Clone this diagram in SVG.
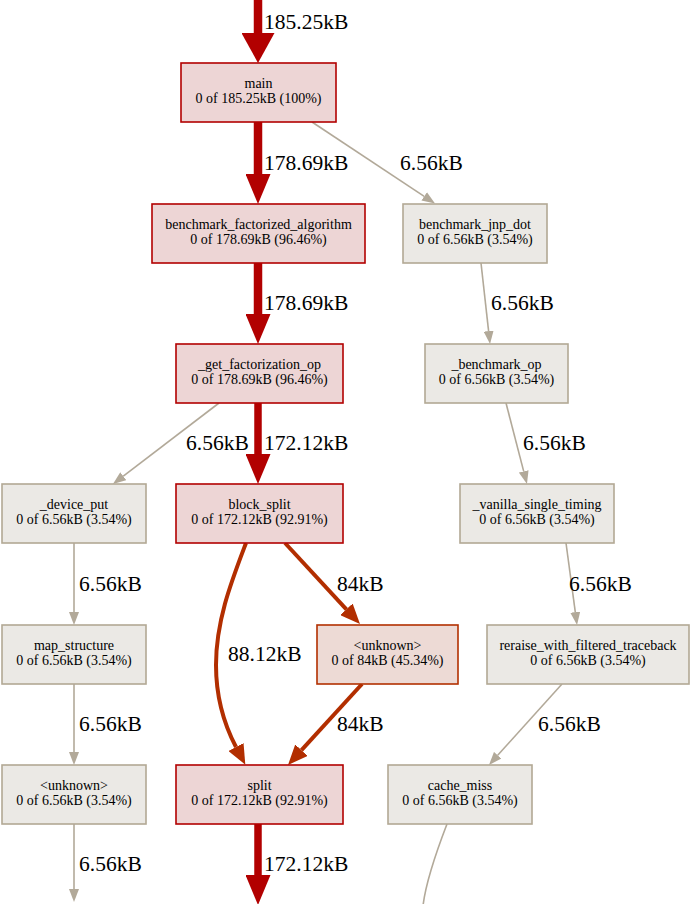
<svg xmlns="http://www.w3.org/2000/svg" width="692" height="904" viewBox="0 0 692 904">
<style>
.nr rect{fill:#edd5d5;stroke:#b20000;stroke-width:1.6}
.no rect{fill:#eddad5;stroke:#b23000;stroke-width:1.6}
.ng rect{fill:#ebe9e5;stroke:#b2a894;stroke-width:1.6}
.node text{font-family:'Liberation Serif',serif;font-size:14px;fill:#000;text-anchor:middle}
text.lbl{font-family:'Liberation Serif',serif;font-size:21.5px;fill:#000}
.eg{fill:none;stroke:#b2a999;stroke-width:1.6}
.eo{fill:none;stroke:#b22e00;stroke-width:4}
.er{fill:none;stroke:#b20000;stroke-width:8.5}
.er2{fill:none;stroke:#b20000;stroke-width:7.5}
.mg{fill:#b2a999}
.mo{fill:#b22e00}
.mr{fill:#b20000}
</style>
<defs>
<marker id="ag" viewBox="0 -5 13 10" markerWidth="13" markerHeight="10" refX="0" refY="0" orient="auto" markerUnits="userSpaceOnUse"><path class="mg" d="M0,-5L13,0L0,5z"/></marker>
<marker id="ao" viewBox="0 -8.5 20 17" markerWidth="20" markerHeight="17" refX="0" refY="0" orient="auto" markerUnits="userSpaceOnUse"><path class="mo" d="M0,-8.5L20,0L0,8.5z"/></marker>
<marker id="ar" viewBox="0 -12.5 30 25" markerWidth="30" markerHeight="25" refX="0" refY="0" orient="auto" markerUnits="userSpaceOnUse"><path class="mr" d="M0,-12.5L30,0L0,12.5z"/></marker>
<marker id="ar0" viewBox="0 -16.5 30 33" markerWidth="30" markerHeight="33" refX="0" refY="0" orient="auto" markerUnits="userSpaceOnUse"><path class="mr" d="M0,-16.5L30,0L0,16.5z"/></marker>
</defs>
<g id="edges">
<path class="er" d="M258,0L258,33" marker-end="url(#ar0)"/>
<path class="er" d="M258,122L258,174" marker-end="url(#ar)"/>
<path class="eg" d="M312,122L424.2,196.3" marker-end="url(#ag)"/>
<path class="er" d="M258,263L258,314" marker-end="url(#ar)"/>
<path class="eg" d="M481,263L488.6,331.1" marker-end="url(#ag)"/>
<path class="eg" d="M219,403L123.3,476.1" marker-end="url(#ag)"/>
<path class="er2" d="M258,403L258,454" marker-end="url(#ar)"/>
<path class="eg" d="M506,403L523.7,471.4" marker-end="url(#ag)"/>
<path class="eg" d="M74,543L74,612" marker-end="url(#ag)"/>
<path class="eo" d="M246,543C232,580 216,620 216,665C216,702 226,728 236,747" marker-end="url(#ao)"/>
<path class="eo" d="M285,543L346.4,609.3" marker-end="url(#ao)"/>
<path class="eg" d="M566,543L575.3,612.1" marker-end="url(#ag)"/>
<path class="eg" d="M74,684L74,752" marker-end="url(#ag)"/>
<path class="eo" d="M362,684L301.5,750.2" marker-end="url(#ao)"/>
<path class="eg" d="M562,684L497.7,755.3" marker-end="url(#ag)"/>
<path class="eg" d="M74,824L74,889" marker-end="url(#ag)"/>
<path class="er2" d="M258,824L258,875" marker-end="url(#ar)"/>
<path class="eg" d="M447,824C437,850 426,880 423,906"/>
<g font-family="Liberation Serif, serif" font-size="21.5">
<text class="lbl" x="264" y="29">185.25kB</text>
<text class="lbl" x="264" y="170">178.69kB</text>
<text class="lbl" x="400" y="170">6.56kB</text>
<text class="lbl" x="264" y="310">178.69kB</text>
<text class="lbl" x="491" y="310">6.56kB</text>
<text class="lbl" x="186" y="450">6.56kB</text>
<text class="lbl" x="264" y="450">172.12kB</text>
<text class="lbl" x="523" y="450">6.56kB</text>
<text class="lbl" x="79" y="591">6.56kB</text>
<text class="lbl" x="337" y="591">84kB</text>
<text class="lbl" x="569" y="591">6.56kB</text>
<text class="lbl" x="228" y="661">88.12kB</text>
<text class="lbl" x="79" y="731">6.56kB</text>
<text class="lbl" x="337" y="731">84kB</text>
<text class="lbl" x="538" y="731">6.56kB</text>
<text class="lbl" x="79" y="871">6.56kB</text>
<text class="lbl" x="264" y="871">172.12kB</text>
</g>
</g>
<g id="n_main" class="node nr"><rect x="181" y="63" width="155" height="59"/><text x="258.5" y="88">main</text><text x="258.5" y="103">0 of 185.25kB (100%)</text></g>
<g id="n_bfa" class="node nr"><rect x="152" y="204" width="213" height="59"/><text x="258.5" y="229">benchmark_factorized_algorithm</text><text x="258.5" y="244">0 of 178.69kB (96.46%)</text></g>
<g id="n_jnp" class="node ng"><rect x="403" y="204" width="144" height="59"/><text x="475" y="229">benchmark_jnp_dot</text><text x="475" y="244">0 of 6.56kB (3.54%)</text></g>
<g id="n_gfo" class="node nr"><rect x="176" y="344" width="167" height="59"/><text x="259.5" y="369">_get_factorization_op</text><text x="259.5" y="384">0 of 178.69kB (96.46%)</text></g>
<g id="n_bop" class="node ng"><rect x="425" y="344" width="143" height="59"/><text x="496.5" y="369">_benchmark_op</text><text x="496.5" y="384">0 of 6.56kB (3.54%)</text></g>
<g id="n_dput" class="node ng"><rect x="2" y="484" width="144" height="59"/><text x="74" y="509">_device_put</text><text x="74" y="524">0 of 6.56kB (3.54%)</text></g>
<g id="n_bsplit" class="node nr"><rect x="176" y="484" width="167" height="59"/><text x="259.5" y="509">block_split</text><text x="259.5" y="524">0 of 172.12kB (92.91%)</text></g>
<g id="n_vst" class="node ng"><rect x="460" y="484" width="154" height="59"/><text x="537" y="509">_vanilla_single_timing</text><text x="537" y="524">0 of 6.56kB (3.54%)</text></g>
<g id="n_map" class="node ng"><rect x="2" y="625" width="144" height="59"/><text x="74" y="650">map_structure</text><text x="74" y="665">0 of 6.56kB (3.54%)</text></g>
<g id="n_unk84" class="node no"><rect x="317" y="625" width="141" height="59"/><text x="387.5" y="650">&lt;unknown&gt;</text><text x="387.5" y="665">0 of 84kB (45.34%)</text></g>
<g id="n_reraise" class="node ng"><rect x="487" y="625" width="202" height="59"/><text x="588" y="650">reraise_with_filtered_traceback</text><text x="588" y="665">0 of 6.56kB (3.54%)</text></g>
<g id="n_unk" class="node ng"><rect x="2" y="765" width="144" height="59"/><text x="74" y="790">&lt;unknown&gt;</text><text x="74" y="805">0 of 6.56kB (3.54%)</text></g>
<g id="n_split" class="node nr"><rect x="176" y="765" width="167" height="59"/><text x="259.5" y="790">split</text><text x="259.5" y="805">0 of 172.12kB (92.91%)</text></g>
<g id="n_cache" class="node ng"><rect x="388" y="765" width="144" height="59"/><text x="460" y="790">cache_miss</text><text x="460" y="805">0 of 6.56kB (3.54%)</text></g>
</svg>
